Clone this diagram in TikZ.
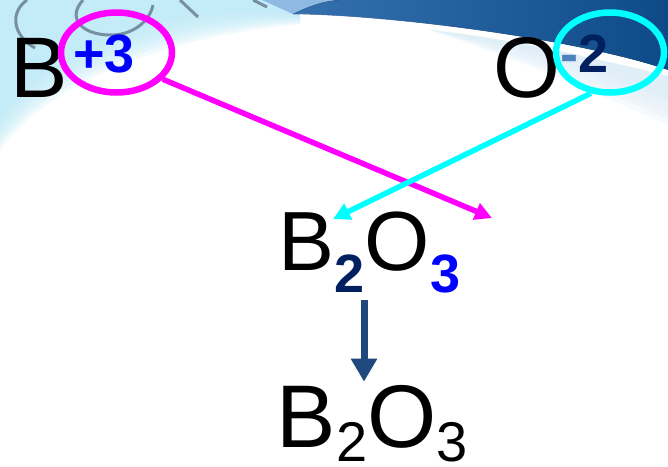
\documentclass[tikz,border=0pt]{standalone}
\usepackage{fontspec}
\setmainfont{Liberation Sans}
\usetikzlibrary{shapes.geometric, arrows.meta}

\definecolor{navy}{HTML}{002060}
\definecolor{steel}{HTML}{4F81BD}
\definecolor{arrowblue}{HTML}{1F497D}
\definecolor{pink}{RGB}{255,0,255}
\definecolor{aqua}{RGB}{0,255,255}
\definecolor{paleblue}{HTML}{BDEAF8}
\definecolor{washblue}{HTML}{D6EAF6}
\definecolor{wedgeblue}{HTML}{8DB9E3}
\definecolor{bandlight}{HTML}{3471AE}
\definecolor{banddark}{HTML}{0F4A88}
\definecolor{swirl}{HTML}{5E7285}

\newcommand{\midsub}[2]{\raisebox{-22pt}{\fontsize{54}{60}\selectfont\bfseries\color{#1}#2}}
\newcommand{\botsub}[1]{\raisebox{-14pt}{\fontsize{56}{60}\selectfont #1}}

\begin{document}
\begin{tikzpicture}[
        x=1pt, y=-1pt,
        every node/.style={inner sep=0pt, anchor=base west},
        atom/.style={font=\fontsize{86}{100}\selectfont},
        charge/.style={font=\fontsize{54}{60}\selectfont\bfseries},
        ring/.style={ellipse, draw, line width=6.5pt, minimum width=#1, minimum height=80pt, anchor=center},
        link/.style={line width=5.5pt, -{Triangle[length=17pt, width=17pt]}},
        yield/.style={draw=arrowblue, line width=7pt, -{Triangle[length=23pt, width=25pt]}},
        swirlline/.style={draw=swirl, line width=3pt, opacity=0.75}
    ]
    \useasboundingbox (0,0) rectangle (668,466);
    \fill[white] (0,0) rectangle (668,466);

    % slide background
    \begin{scope}
        \clip (0,0) rectangle (668,466);
        \foreach \d in {0,5,...,35}
            \fill[paleblue, opacity=0.22]
                (0,0) -- (300,0) -- (300,24-\d*0.3) .. controls (170,36-\d) and (50,80-\d) .. (0,150-\d) -- cycle;
        \foreach \d in {0,6,...,30}
            \fill[washblue, opacity=0.2]
                (430,30) .. controls (520,40) and (600,60) .. (668,76) -- (668,125-\d)
                .. controls (600,95-\d) and (520,60-\d*0.5) .. (430,30) -- cycle;
        \fill[wedgeblue] (262,0) -- (345,0) -- (293,14) -- cycle;
        \fill[left color=bandlight, right color=banddark]
            (293,14) .. controls (310,6) and (325,0) .. (345,0) -- (668,0) -- (668,70)
            .. controls (580,40) and (400,16) .. (293,14) -- cycle;
        \draw[white, line width=1.5pt, opacity=0.7]
            (300,15) .. controls (400,17) and (580,41) .. (668,71);
        \draw[swirlline] (27,0) .. controls (10,12) and (12,35) .. (35,48);
        \draw[swirlline] (83,0) .. controls (65,20) and (85,36) .. (113,35)
            .. controls (135,34) and (150,20) .. (153,5);
        \draw[swirlline] (180,0) -- (198,17);
        \draw[swirlline] (253,0) -- (267,7);
    \end{scope}

    \node[atom] (B) at (10.7,97) {B};
    \node[charge, text=blue] (Bval) at (73,72) {+3};
    \node[atom] (O) at (493,97) {O};
    \node[charge] (Oval) at (560,72) {\textcolor{steel}{-}\textcolor{navy}{2}};

    \node[ring=111pt, draw=pink] (Bring) at (116.5,52.5) {};
    \node[ring=108pt, draw=aqua] (Oring) at (610,52.5) {};

    \node[atom, font=\fontsize{84}{100}\selectfont] (mid) at (278.7,270)
        {B\midsub{navy}{2}O\midsub{blue}{3}};
    \node[atom, font=\fontsize{89}{100}\selectfont] (bot) at (276.7,447)
        {B\botsub{2}O\botsub{3}};

    \coordinate (mtip) at (492,218);
    \coordinate (ctip) at (333,219);
    \coordinate (axis) at (364,0);
    \coordinate (ystart) at ([yshift=-7.5pt]mid.south);
    \coordinate (yend) at ([yshift=3pt]bot.north);

    \draw[link, draw=pink] (Bring.-30) -- (mtip);
    \draw[link, draw=aqua] (Oring.-115) -- (ctip);
    \draw[yield] (ystart -| axis) -- (yend -| axis);
\end{tikzpicture}
\end{document}
